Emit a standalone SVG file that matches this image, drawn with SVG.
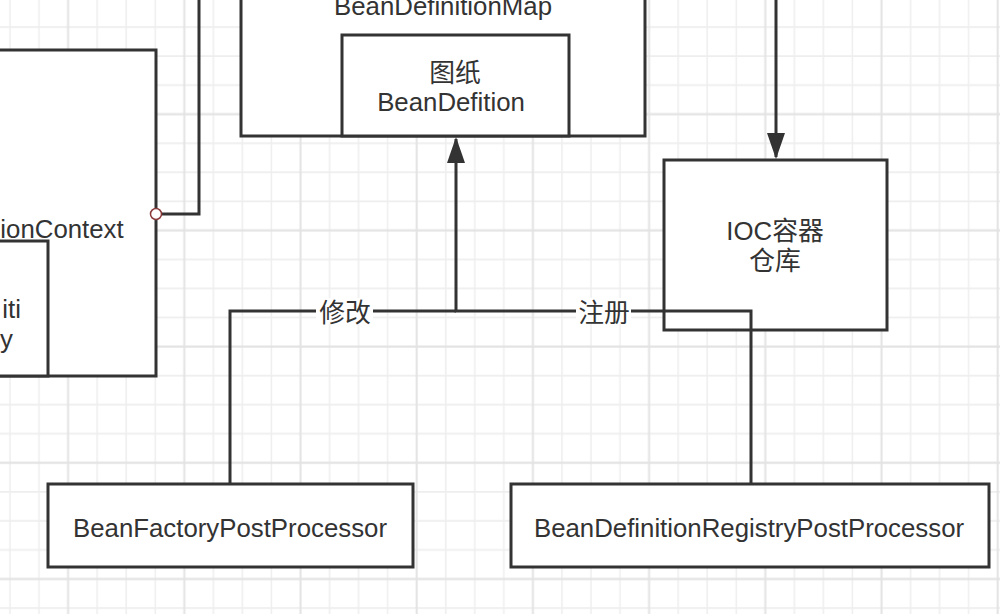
<svg xmlns="http://www.w3.org/2000/svg" width="1000" height="614" viewBox="0 0 1000 614">
<style>
.box{fill:#fff;stroke:#333;stroke-width:3}
.ln{fill:none;stroke:#333;stroke-width:3}
.t{font-family:"Liberation Sans","Noto Sans CJK SC",Arial,sans-serif;font-size:25.8px;fill:#333;text-anchor:middle}
.lbl{fill:#fff}
</style>
<defs>
<pattern id="grid" patternUnits="userSpaceOnUse" x="53.575" y="-16.525" width="116.2" height="116.2">
<path d="M43.575 0V116.2M72.625 0V116.2M101.675 0V116.2M0 43.575H116.2M0 72.625H116.2M0 101.675H116.2" stroke="#eeeeee" stroke-width="1.5" fill="none"/>
<path d="M14.525 0V116.2M0 14.525H116.2" stroke="#e3e3e3" stroke-width="2" fill="none"/>
</pattern>
<marker id="arr" viewBox="0 0 26 18" refX="24" refY="9" markerWidth="26" markerHeight="18" markerUnits="userSpaceOnUse" orient="auto">
<path d="M0 0L26 9L0 18Z" fill="#333"/>
</marker>
</defs>
<rect width="1000" height="614" fill="#fff"/>
<rect width="1000" height="614" fill="url(#grid)"/>

<g id="applicationContext">
<rect class="box" x="-20" y="50" width="176" height="326"/>
<text class="t" x="62" y="238">ionContext</text>
</g>
<g id="beanDefinitionRegistry">
<rect class="box" x="-20" y="241" width="68" height="135"/>
<text class="t" x="21" y="318" style="text-anchor:end">iti</text>
<text class="t" x="13" y="348" style="text-anchor:end">y</text>
</g>

<g id="beanDefinitionMap">
<rect class="box" x="241" y="-20" width="404" height="156"/>
<text class="t" x="443" y="15">BeanDefinitionMap</text>
</g>
<g id="beanDefinition">
<rect class="box" x="342" y="35" width="227" height="101"/>
<text class="t" x="455" y="82">图纸</text>
<text class="t" x="451" y="111">BeanDefition</text>
</g>

<g id="iocContainer">
<rect class="box" x="664" y="160" width="223" height="170"/>
<text class="t" x="775" y="240">IOC容器</text>
<text class="t" x="775" y="270">仓库</text>
</g>

<g id="beanFactoryPostProcessor">
<rect class="box" x="48" y="484" width="365" height="83"/>
<text class="t" x="230" y="537">BeanFactoryPostProcessor</text>
</g>
<g id="beanDefinitionRegistryPostProcessor">
<rect class="box" x="511" y="484" width="478" height="83"/>
<text class="t" x="749" y="537">BeanDefinitionRegistryPostProcessor</text>
</g>

<g id="connectors">
<path class="ln" d="M156 214H199V-10"/>
<circle cx="156" cy="214" r="5.5" fill="#fff" stroke="#8a3a3a" stroke-width="1.5"/>
<path class="ln" d="M776 -10V157" marker-end="url(#arr)"/>
<path class="ln" d="M230 484V311H456"/>
<path class="ln" d="M751 484V311H456V139" marker-end="url(#arr)"/>
<rect class="lbl" x="316" y="298" width="57" height="26"/>
<text class="t" x="345" y="322">修改</text>
<rect class="lbl" x="576" y="298" width="55" height="26"/>
<text class="t" x="604" y="322">注册</text>
</g>
</svg>
